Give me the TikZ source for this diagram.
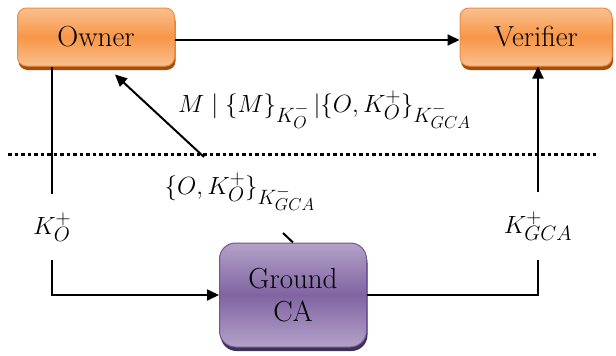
\documentclass[tikz,border=0pt]{standalone}
\DeclareMathSizes{26}{26}{20}{16}
\usetikzlibrary{arrows.meta,shadows}
\definecolor{orM}{HTML}{F79646}
\definecolor{orL}{HTML}{FAC08F}
\definecolor{orB}{HTML}{EE8E45}
\definecolor{orD}{HTML}{A34E0C}
\definecolor{puM}{HTML}{8064A2}
\definecolor{puL}{HTML}{B3A2C8}
\definecolor{puB}{HTML}{6F5592}
\definecolor{puD}{HTML}{3F3151}
\tikzset{
  orbox/.style={rounded corners=9pt,draw=orB,line width=1pt,top color=orL,bottom color=orL,middle color=orM,
    drop shadow={shadow xshift=1pt,shadow yshift=-4pt,fill=orD,opacity=1},
    minimum width=157pt,minimum height=58pt,font=\fontsize{29}{33}\selectfont},
  pubox/.style={rounded corners=16pt,draw=puB,line width=1pt,top color=puL,bottom color=puL,middle color=puM,
    drop shadow={shadow xshift=1pt,shadow yshift=-4pt,fill=puD,opacity=1},
    minimum width=147pt,minimum height=104pt,align=center,font=\fontsize{29}{33}\selectfont},
  msg/.style={inner sep=0pt,font=\fontsize{26}{30}\selectfont},
  link/.style={line width=2pt,-{Triangle[length=12pt,width=11pt]}},
  plain/.style={line width=2pt}
}
\begin{document}
\begin{tikzpicture}[x=1pt,y=-1pt]
\useasboundingbox (0,0) rectangle (616,356);
%NODE
\node[orbox] (owner) at (96,37) {Owner};
\node[orbox,minimum width=152pt] (verifier) at (536,37) {Verifier};
\node[pubox] (gca) at (293,295) {Ground\\CA};
\node[msg,anchor=base west] (m1) at (178,112) {$M\mid\{M\}_{K_O^-}\,|\{O,K_O^+\}_{K_{GCA}^-}$};
\node[msg] (m2) at (240,192) {$\{O,K_O^+\}_{K_{GCA}^-}$};
\node[msg,minimum height=65pt] (ko) at (52,227) {$K_O^+$};
\node[msg,minimum height=67pt] (kg) at (538,226) {$K_{GCA}^+$};
\coordinate (dl) at (8,154);
\coordinate (dr) at (596,154);
\coordinate (c1) at (204,157);
\coordinate (c2) at (283,233);

%EDGE
\draw[line width=3pt,dash pattern=on 3.5pt off 3pt] (dl) -- (dr);
\draw[link] ([yshift=-3pt]owner.east) -- ([yshift=-3pt]verifier.west);
\draw[plain] (ko.north |- owner.south) -- (ko.north);
\draw[link] (ko.south) |- (gca.west);
\draw[plain] (gca.east) -| (kg.south);
\draw[link] (kg.north) -- (kg.north |- verifier.south);
\draw[plain] (gca.north) -- (c2);
\draw[link] (c1) -- ([xshift=19pt,yshift=-8pt]owner.south);
\end{tikzpicture}
\end{document}
